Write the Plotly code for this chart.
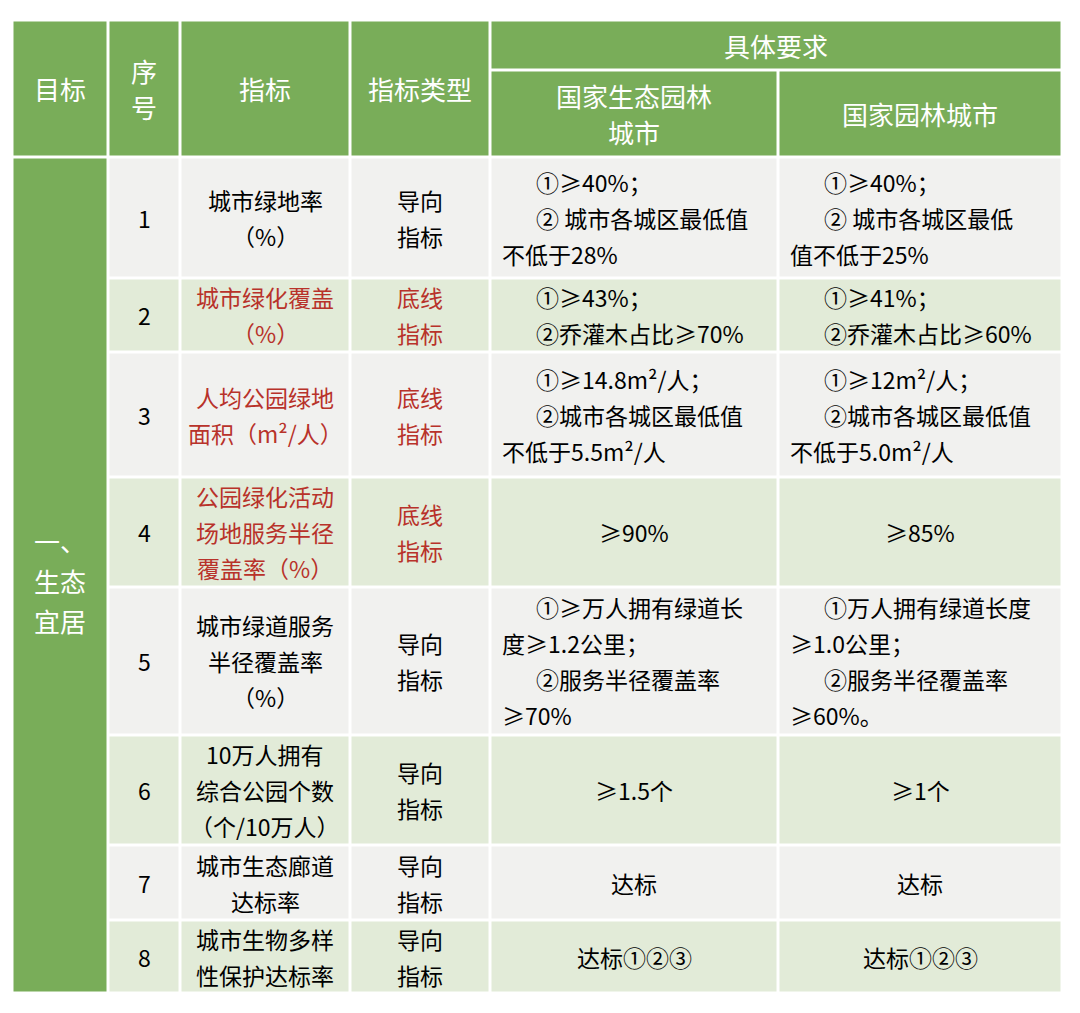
import plotly.graph_objects as go

W, H = 1080, 1013
M = 8
col_x = [12, 108, 180, 350, 490, 778, 1062]
head_y = [20, 70, 157]
row_y = [157, 278, 352, 477, 587, 735, 845, 920, 993]

goal = "一、<br>生态<br>宜居"
seq = ["1", "2", "3", "4", "5", "6", "7", "8"]
indicator = [
    ["城市绿地率", "（%）"],
    ["城市绿化覆盖", "（%）"],
    ["人均公园绿地", "面积（m²/人）"],
    ["公园绿化活动", "场地服务半径", "覆盖率（%）"],
    ["城市绿道服务", "半径覆盖率", "（%）"],
    ["10万人拥有", "综合公园个数", "（个/10万人）"],
    ["城市生态廊道", "达标率"],
    ["城市生物多样", "性保护达标率"],
]
red = [False, True, True, True, False, False, False, False]
itype = [["导向", "指标"], ["底线", "指标"], ["底线", "指标"], ["底线", "指标"],
         ["导向", "指标"], ["导向", "指标"], ["导向", "指标"], ["导向", "指标"]]
req_eco = [
    [("①≥40%；", 1), ("② 城市各城区最低值", 1), ("不低于28%", 0)],
    [("①≥43%；", 1), ("②乔灌木占比≥70%", 1)],
    [("①≥14.8m²/人；", 1), ("②城市各城区最低值", 1), ("不低于5.5m²/人", 0)],
    [("≥90%", None)],
    [("①≥万人拥有绿道长", 1), ("度≥1.2公里；", 0), ("②服务半径覆盖率", 1), ("≥70%", 0)],
    [("≥1.5个", None)],
    [("达标", None)],
    [("达标①②③", None)],
]
req_city = [
    [("①≥40%；", 1), ("② 城市各城区最低", 1), ("值不低于25%", 0)],
    [("①≥41%；", 1), ("②乔灌木占比≥60%", 1)],
    [("①≥12m²/人；", 1), ("②城市各城区最低值", 1), ("不低于5.0m²/人", 0)],
    [("≥85%", None)],
    [("①万人拥有绿道长度", 1), ("≥1.0公里；", 0), ("②服务半径覆盖率", 1), ("≥60%。", 0)],
    [("≥1个", None)],
    [("达标", None)],
    [("达标①②③", None)],
]

GREEN = "#79ad59"
LIGHT = "#f1f1ef"
LGREEN = "#e2ebd8"
RED = "#b8322a"
FONT = "Noto Sans CJK SC"
G = 1.5

shapes, ann = [], []
def rect(x0, x1, y0, y1, c):
    shapes.append(dict(type="rect", xref="x", yref="y", x0=x0 + G, x1=x1 - G,
                       y0=y0 + G, y1=y1 - G, fillcolor=c, line_width=0, layer="below"))
def txt(x, y, t, size=23, color="black", anchor="center"):
    ann.append(dict(x=x, y=y, xref="x", yref="y", text=t, showarrow=False, xanchor=anchor,
                    yanchor="middle", align="center", font=dict(family=FONT, size=size, color=color)))
def lines_at(x, cy, lines, ls, size=23, color="black"):
    for k, l in enumerate(lines):
        txt(x, cy + (k - (len(lines) - 1) / 2) * ls, l, size, color)

hs = 26
for i in range(4):
    rect(col_x[i], col_x[i + 1], head_y[0], head_y[2], GREEN)
rect(col_x[4], col_x[6], head_y[0], head_y[1], GREEN)
rect(col_x[4], col_x[5], head_y[1], head_y[2], GREEN)
rect(col_x[5], col_x[6], head_y[1], head_y[2], GREEN)
hy = (head_y[0] + head_y[2]) / 2
txt((col_x[0] + col_x[1]) / 2, hy, "目标", hs, "white")
lines_at((col_x[1] + col_x[2]) / 2, hy, ["序", "号"], 36, hs, "white")
txt((col_x[2] + col_x[3]) / 2, hy, "指标", hs, "white")
txt((col_x[3] + col_x[4]) / 2, hy, "指标类型", hs, "white")
txt((col_x[4] + col_x[6]) / 2, (head_y[0] + head_y[1]) / 2, "具体要求", hs, "white")
lines_at((col_x[4] + col_x[5]) / 2, (head_y[1] + head_y[2]) / 2, ["国家生态园林", "城市"], 36, hs, "white")
txt((col_x[5] + col_x[6]) / 2, (head_y[1] + head_y[2]) / 2, "国家园林城市", hs, "white")

rect(col_x[0], col_x[1], row_y[0], row_y[-1], GREEN)
lines_at((col_x[0] + col_x[1]) / 2, (row_y[0] + row_y[-1]) / 2 + 5, goal.split("<br>"), 40, hs, "white")

LS = 36
for r in range(8):
    y0, y1 = row_y[r], row_y[r + 1]
    cy = (y0 + y1) / 2
    bg = LIGHT if r % 2 == 0 else LGREEN
    for c in range(1, 6):
        rect(col_x[c], col_x[c + 1], y0, y1, bg)
    col = RED if red[r] else "black"
    txt((col_x[1] + col_x[2]) / 2, cy, seq[r])
    lines_at((col_x[2] + col_x[3]) / 2, cy, indicator[r], LS, color=col)
    lines_at((col_x[3] + col_x[4]) / 2, cy, itype[r], LS, color=col)
    for ci, req in ((4, req_eco), (5, req_city)):
        ls = req[r]
        for k, (t, ind) in enumerate(ls):
            yy = cy + (k - (len(ls) - 1) / 2) * LS
            if ind is None:
                txt((col_x[ci] + col_x[ci + 1]) / 2, yy, t)
            else:
                txt(col_x[ci] + (44 if ind else 10), yy, t, anchor="left")

fig = go.Figure()
fig.add_trace(go.Scatter(x=[M, W - M], y=[M, H - M], mode="markers", marker=dict(opacity=0),
                         hoverinfo="skip", showlegend=False))
fig.update_layout(width=W - 2 * M, height=H - 2 * M, margin=dict(l=0, r=0, t=0, b=0),
                  paper_bgcolor="white", plot_bgcolor="white",
                  xaxis=dict(range=[M, W - M], visible=False, fixedrange=True),
                  yaxis=dict(range=[H - M, M], visible=False, fixedrange=True),
                  shapes=shapes, annotations=ann)
fig.write_html("out.html", config={"displayModeBar": False})
